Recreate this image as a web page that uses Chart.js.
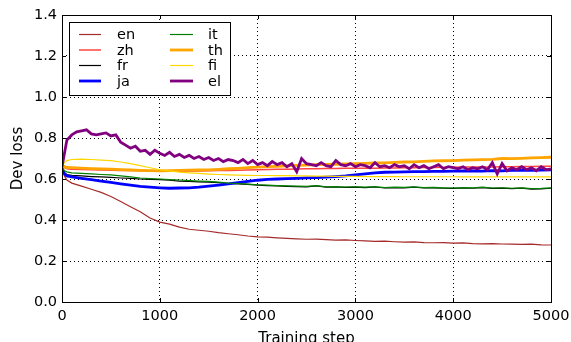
<!DOCTYPE html>
<html>
<head>
<meta charset="utf-8">
<script src="https://cdn.jsdelivr.net/npm/chart.js@4.4.1/dist/chart.umd.min.js"></script>
<style>
  body { margin: 0; background: #fff; }
  canvas { display: block; }
</style>
</head>
<body>
<canvas id="devLoss" width="571" height="342"></canvas>
<script>
// training steps (x) shared by the smooth curves
let steps = [0, 25, 50,
  100, 200, 300, 400, 500, 600, 700, 800, 900, 1000,
  1100, 1200, 1300, 1400, 1500, 1600, 1700, 1800, 1900, 2000,
  2100, 2200, 2300, 2400, 2500, 2600, 2700, 2800, 2900, 3000,
  3100, 3200, 3300, 3400, 3500, 3600, 3700, 3800, 3900, 4000,
  4100, 4200, 4300, 4400, 4500, 4600, 4700, 4800, 4900, 5000];

let en = [0.65, 0.615, 0.595,
  0.58, 0.565, 0.55, 0.535, 0.515, 0.49, 0.465, 0.44, 0.41, 0.39,
  0.38, 0.365, 0.355, 0.35, 0.345, 0.338, 0.333, 0.328, 0.322, 0.318,
  0.316, 0.313, 0.31, 0.308, 0.306, 0.307, 0.304, 0.302, 0.303, 0.30,
  0.298, 0.296, 0.297, 0.294, 0.292, 0.293, 0.29, 0.289, 0.29, 0.287,
  0.288, 0.285, 0.284, 0.285, 0.283, 0.282, 0.281, 0.282, 0.279, 0.278];

let zh = [0.665, 0.655, 0.65,
  0.648, 0.646, 0.645, 0.644, 0.643, 0.642, 0.641, 0.64, 0.639, 0.638,
  0.638, 0.638, 0.639, 0.639, 0.64, 0.641, 0.642, 0.643, 0.644, 0.645,
  0.646, 0.647, 0.648, 0.649, 0.65, 0.65, 0.651, 0.651, 0.652, 0.652,
  0.653, 0.653, 0.654, 0.654, 0.655, 0.655, 0.656, 0.656, 0.657, 0.657,
  0.658, 0.658, 0.659, 0.659, 0.66, 0.66, 0.661, 0.661, 0.662, 0.662];

let fr = [0.655, 0.63, 0.622,
  0.618, 0.615, 0.612, 0.61, 0.608, 0.605, 0.603, 0.6, 0.598, 0.597,
  0.594, 0.59, 0.588, 0.586, 0.585, 0.582, 0.578, 0.576, 0.574, 0.57,
  0.568, 0.566, 0.564, 0.563, 0.562, 0.566, 0.56, 0.561, 0.559, 0.56,
  0.558, 0.561, 0.556, 0.558, 0.557, 0.56, 0.556, 0.557, 0.555, 0.554,
  0.556, 0.555, 0.558, 0.554, 0.555, 0.553, 0.555, 0.551, 0.552, 0.555];

let ja = [0.65, 0.625, 0.615,
  0.61, 0.603, 0.597, 0.59, 0.583, 0.576, 0.57, 0.564, 0.56, 0.557,
  0.555, 0.556, 0.557, 0.56, 0.565, 0.57, 0.576, 0.582, 0.588, 0.594,
  0.598, 0.6, 0.602, 0.603, 0.605, 0.607, 0.609, 0.612, 0.615, 0.62,
  0.625, 0.63, 0.633, 0.634, 0.635, 0.636, 0.636, 0.637, 0.637, 0.638,
  0.639, 0.64, 0.638, 0.641, 0.64, 0.642, 0.643, 0.642, 0.644, 0.645];

let it = [0.66, 0.64, 0.635,
  0.63, 0.627, 0.625, 0.622, 0.62, 0.615, 0.61, 0.605, 0.602, 0.6,
  0.597, 0.595, 0.592, 0.59, 0.588, 0.585, 0.58, 0.578, 0.575, 0.572,
  0.57, 0.568, 0.566, 0.565, 0.564, 0.568, 0.562, 0.563, 0.561, 0.562,
  0.56, 0.563, 0.558, 0.56, 0.559, 0.562, 0.558, 0.559, 0.557, 0.556,
  0.558, 0.557, 0.56, 0.556, 0.557, 0.555, 0.557, 0.553, 0.554, 0.557];

let th = [0.67, 0.66, 0.656,
  0.655, 0.653, 0.651, 0.649, 0.648, 0.646, 0.644, 0.642, 0.641, 0.64,
  0.641, 0.642, 0.643, 0.644, 0.645, 0.647, 0.65, 0.652, 0.655, 0.658,
  0.66, 0.662, 0.664, 0.666, 0.668, 0.67, 0.671, 0.672, 0.674, 0.675,
  0.676, 0.678, 0.679, 0.681, 0.683, 0.684, 0.686, 0.688, 0.689, 0.69,
  0.692, 0.693, 0.695, 0.696, 0.7, 0.699, 0.701, 0.703, 0.704, 0.706];

let fi = [0.665, 0.68, 0.69,
  0.695, 0.697, 0.695, 0.692, 0.69, 0.683, 0.675, 0.665, 0.655, 0.645,
  0.64, 0.634, 0.63, 0.627, 0.624, 0.622, 0.62, 0.619, 0.618, 0.617,
  0.617, 0.616, 0.616, 0.615, 0.615, 0.614, 0.614, 0.613, 0.613, 0.613,
  0.612, 0.612, 0.612, 0.612, 0.611, 0.611, 0.611, 0.611, 0.611, 0.611,
  0.61, 0.61, 0.61, 0.61, 0.61, 0.61, 0.61, 0.61, 0.61, 0.61];

// el is noisier, so it gets a finer step list
let elSteps = [0, 50, 100, 150, 200, 250, 300, 350, 400, 450,
  500, 550, 600, 650, 700, 750, 800, 850, 900, 950,
  1000, 1050, 1100, 1150, 1200, 1250, 1300, 1350, 1400, 1450,
  1500, 1550, 1600, 1650, 1700, 1750, 1800, 1850, 1900, 1950,
  2000, 2050, 2100, 2150, 2200, 2250, 2300, 2350, 2400, 2450,
  2500, 2550, 2600, 2650, 2700, 2750, 2800, 2850, 2900, 2950,
  3000, 3050, 3100, 3150, 3200, 3250, 3300, 3350, 3400, 3450,
  3500, 3550, 3600, 3650, 3700, 3750, 3800, 3850, 3900, 3950,
  4000, 4050, 4100, 4150, 4200, 4250, 4300, 4350, 4400, 4450,
  4500, 4550, 4600, 4650, 4700, 4750, 4800, 4850, 4900, 4950,
  5000];

let el = [0.66, 0.79, 0.815, 0.83, 0.835, 0.84, 0.82, 0.815, 0.82, 0.825,
  0.81, 0.815, 0.78, 0.765, 0.75, 0.76, 0.735, 0.74, 0.72, 0.74,
  0.725, 0.715, 0.73, 0.71, 0.72, 0.705, 0.715, 0.7, 0.71, 0.695,
  0.705, 0.69, 0.7, 0.685, 0.695, 0.69, 0.68, 0.695, 0.675, 0.69,
  0.67, 0.68, 0.665, 0.685, 0.67, 0.68, 0.66, 0.675, 0.635, 0.7,
  0.675, 0.67, 0.665, 0.68, 0.665, 0.66, 0.69, 0.67, 0.665, 0.675,
  0.66, 0.67, 0.665, 0.655, 0.68, 0.66, 0.665, 0.655, 0.67, 0.66,
  0.665, 0.65, 0.67, 0.655, 0.665, 0.65, 0.66, 0.67, 0.65, 0.66,
  0.655, 0.65, 0.66, 0.645, 0.655, 0.65, 0.66, 0.645, 0.68, 0.625,
  0.675, 0.64, 0.655, 0.645, 0.66, 0.645, 0.655, 0.64, 0.66, 0.645,
  0.65];

let yTicks = [0.0, 0.2, 0.4, 0.6, 0.8, 1.0, 1.2, 1.4];
let xTicks = [0, 1000, 2000, 3000, 4000, 5000];

let fonte = "'DejaVu Sans', sans-serif";

function pontos(xs, ys) {
  return ys.map(function (v, i) { return { x: xs[i], y: v }; });
}

let series = [
  { label: 'en', xs: steps,   ys: en, color: '#a52a2a', w: 1.2 },
  { label: 'zh', xs: steps,   ys: zh, color: '#ff4444', w: 1.5 },
  { label: 'fr', xs: steps,   ys: fr, color: '#000000', w: 1.2 },
  { label: 'ja', xs: steps,   ys: ja, color: '#0000ff', w: 2.8 },
  { label: 'it', xs: steps,   ys: it, color: '#008000', w: 1.2 },
  { label: 'th', xs: steps,   ys: th, color: '#ffa500', w: 2.8 },
  { label: 'fi', xs: steps,   ys: fi, color: '#ffd700', w: 1.2 },
  { label: 'el', xs: elSteps, ys: el, color: '#800080', w: 2.8 }
];

let dados = {
  datasets: series.map(function (s, i) {
    return {
      label: s.label,
      data: pontos(s.xs, s.ys),
      borderColor: s.color,
      backgroundColor: s.color,
      borderWidth: s.w,
      pointRadius: 0,
      tension: 0,
      order: series.length - i   // later series drawn on top
    };
  })
};

// frame, inward ticks (all four sides) and the 2-column legend box
let moldura = {
  id: 'moldura',
  afterDatasetsDraw(chart) {
    let c = chart.ctx, a = chart.chartArea;
    let sx = chart.scales.x, sy = chart.scales.y;
    c.save();
    c.strokeStyle = '#000';
    c.lineWidth = 1;
    c.setLineDash([]);
    c.strokeRect(Math.round(a.left) + 0.5, Math.round(a.top) + 0.5,
                 Math.round(a.right - a.left), Math.round(a.bottom - a.top));
    c.beginPath();
    yTicks.forEach(function (t) {
      let y = Math.round(sy.getPixelForValue(t)) + 0.5;
      c.moveTo(a.left, y); c.lineTo(a.left + 4, y);
      c.moveTo(a.right, y); c.lineTo(a.right - 4, y);
    });
    xTicks.forEach(function (t) {
      let x = Math.round(sx.getPixelForValue(t)) + 0.5;
      c.moveTo(x, a.bottom); c.lineTo(x, a.bottom - 4);
      c.moveTo(x, a.top); c.lineTo(x, a.top + 4);
    });
    c.stroke();

    // legend
    let bx = 69.5, by = 22.5, bw = 161, bh = 73;
    c.fillStyle = '#fff';
    c.fillRect(bx, by, bw, bh);
    c.strokeRect(bx, by, bw, bh);
    let rows = [34.5, 50, 65.5, 81];
    let cols = [{ l0: 79, l1: 101, t: 117 }, { l0: 170, l1: 193, t: 208 }];
    c.font = '14.5px ' + fonte;
    c.textBaseline = 'middle';
    c.textAlign = 'left';
    chart.data.datasets.forEach(function (ds, i) {
      let col = cols[Math.floor(i / 4)], y = rows[i % 4];
      c.strokeStyle = ds.borderColor;
      c.lineWidth = ds.borderWidth;
      c.beginPath();
      c.moveTo(col.l0, y); c.lineTo(col.l1, y);
      c.stroke();
      c.fillStyle = '#000';
      c.fillText(ds.label, col.t, y + 1);
    });
    c.restore();
  }
};

let opcoes = {
  responsive: false,
  animation: false,
  layout: { padding: { top: 15, right: 20, left: 0, bottom: 0 } },
  plugins: { legend: { display: false }, tooltip: { enabled: false } },
  scales: {
    x: {
      type: 'linear', min: 0, max: 5000,
      afterFit: function (s) { s.height = 40; s.paddingRight = 0; s.paddingLeft = 0; },
      ticks: { stepSize: 1000, color: '#000', padding: 6, maxRotation: 0,
               font: { family: fonte, size: 14.5 },
               callback: function (v) { return String(v); } },
      grid: { color: '#000', lineWidth: 1, drawTicks: false },
      border: { display: false, dash: [1, 3] },
      title: { display: true, text: 'Training step', color: '#000',
               font: { family: fonte, size: 15 }, padding: { top: 0, bottom: -6 } }
    },
    y: {
      type: 'linear', min: 0, max: 1.4,
      afterFit: function (s) { s.width = 62; s.paddingTop = 0; s.paddingBottom = 0; },
      ticks: { stepSize: 0.2, color: '#000', padding: 5,
               font: { family: fonte, size: 14.5 },
               callback: function (v) { return v.toFixed(1); } },
      grid: { color: '#000', lineWidth: 1, drawTicks: false },
      border: { display: false, dash: [1, 3] },
      title: { display: true, text: 'Dev loss', color: '#000',
               font: { family: fonte, size: 15 }, padding: { top: 9, bottom: 0 } }
    }
  }
};

let ctx = document.getElementById('devLoss');
let grafico = new Chart(ctx, { type: 'line', data: dados, options: opcoes, plugins: [moldura] });
</script>
</body>
</html>
